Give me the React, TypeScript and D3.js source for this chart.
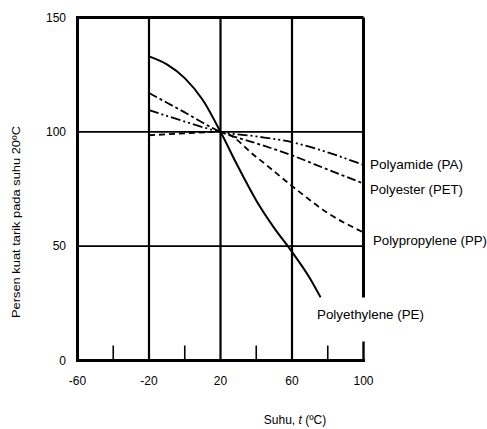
import React from "react";
import * as d3 from "d3";

const xTicks = [-60, -20, 20, 60, 100];
const xMinorTicks = [-40, 0, 40, 80];
const yTicks = [0, 50, 100, 150];
const vGrid = [-20, 20, 60];
const hGrid = [50, 100];

const peT = [-20, -10, 0, 10, 20, 30, 40, 50, 60, 70, 76];
const peV = [133, 129.5, 123.5, 114, 100, 84.5, 70, 58, 47.5, 36, 27.6];
const paT = [-20, 0, 20, 40, 60, 80, 100];
const paV = [109.5, 104.5, 100, 98, 95.5, 91, 85.5];
const petT = [-20, 0, 20, 40, 60, 80, 100];
const petV = [117, 108.5, 100, 95, 89.7, 83.5, 77.4];
const ppT = [-20, 0, 20, 40, 60, 80, 100];
const ppV = [98.5, 99.3, 100, 89, 76.3, 64.5, 56];

const labels = ["Polyamide (PA)", "Polyester (PET)", "Polypropylene (PP)", "Polyethylene (PE)"];

export default function App() {
  const x = d3.scaleLinear().domain([-60, 100]).range([77.5, 363.5]);
  const y = d3.scaleLinear().domain([0, 150]).range([360.5, 17.5]);
  const line = d3
    .line<[number, number]>()
    .x((d) => x(d[0]))
    .y((d) => y(d[1]))
    .curve(d3.curveMonotoneX);
  const zip = (a: number[], b: number[]) => a.map((t, i) => [t, b[i]] as [number, number]);
  const font = "'Liberation Sans', Arial, sans-serif";

  return (
    <svg width={487} height={429} style={{ position: "absolute", left: 0, top: 0, background: "#fff" }}>
      <rect width={487} height={429} fill="#fff" />
      {hGrid.map((v) => (
        <line key={"h" + v} x1={x(-60)} x2={x(100)} y1={y(v)} y2={y(v)} stroke="#000" strokeWidth={1.6} />
      ))}
      {vGrid.map((v) => (
        <line key={"v" + v} x1={x(v)} x2={x(v)} y1={y(150)} y2={y(0)} stroke="#000" strokeWidth={2.2} />
      ))}
      {xMinorTicks.map((v) => (
        <line key={"m" + v} x1={x(v)} x2={x(v)} y1={y(0)} y2={y(0) - 15} stroke="#000" strokeWidth={1.6} />
      ))}
      {/* right border, interrupted */}
      <line x1={x(100)} x2={x(100)} y1={y(150)} y2={y(27.5)} stroke="#000" strokeWidth={3} />
      <line x1={x(100)} x2={x(100)} y1={y(0)} y2={y(0) - 19} stroke="#000" strokeWidth={2.4} />
      {/* frame */}
      <line x1={x(-60)} x2={x(100)} y1={y(150)} y2={y(150)} stroke="#000" strokeWidth={3} />
      <line x1={x(-60)} x2={x(-60)} y1={y(150) - 1.5} y2={y(0) + 1.5} stroke="#000" strokeWidth={3} />
      <line x1={x(-60) - 1.5} x2={x(100) + 1.5} y1={y(0)} y2={y(0)} stroke="#000" strokeWidth={3} />

      <path d={line(zip(peT, peV)) || ""} fill="none" stroke="#000" strokeWidth={2} />
      <path d={line(zip(paT, paV)) || ""} fill="none" stroke="#000" strokeWidth={1.8} strokeDasharray="10,3,2,3,2,3" />
      <path d={line(zip(petT, petV)) || ""} fill="none" stroke="#000" strokeWidth={1.8} strokeDasharray="9,3,3,3" />
      <path d={line(zip(ppT, ppV)) || ""} fill="none" stroke="#000" strokeWidth={1.8} strokeDasharray="6,4" />

      {yTicks.map((v) => (
        <text key={"yt" + v} x={66} y={y(v) + 4} textAnchor="end" fontFamily={font} fontSize={12} fill="#000">
          {v}
        </text>
      ))}
      {xTicks.map((v) => (
        <text key={"xt" + v} x={x(v)} y={385} textAnchor="middle" fontFamily={font} fontSize={12} fill="#000">
          {v}
        </text>
      ))}
      <text x={370} y={169} fontFamily={font} fontSize={13} textLength={93} lengthAdjust="spacingAndGlyphs">{labels[0]}</text>
      <text x={370} y={194} fontFamily={font} fontSize={13} textLength={93} lengthAdjust="spacingAndGlyphs">{labels[1]}</text>
      <text x={373} y={245} fontFamily={font} fontSize={13} textLength={114} lengthAdjust="spacingAndGlyphs">{labels[2]}</text>
      <text x={317} y={319} fontFamily={font} fontSize={13} textLength={107} lengthAdjust="spacingAndGlyphs">{labels[3]}</text>
      <text x={295} y={424} textAnchor="middle" fontFamily={font} fontSize={12}>
        Suhu, <tspan fontStyle="italic">t</tspan> (ºC)
      </text>
      <text
        transform={`translate(20,222) rotate(-90)`}
        textAnchor="middle"
        fontFamily={font}
        fontSize={11}
        textLength={192}
        lengthAdjust="spacingAndGlyphs"
      >
        Persen kuat tarik pada suhu 20ºC
      </text>
    </svg>
  );
}
